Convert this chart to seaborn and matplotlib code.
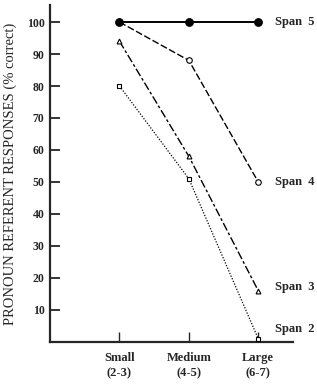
import pandas as pd
import seaborn as sns
import matplotlib.pyplot as plt

# set size categories and % correct for each memory span group
categories = ['Small\n(2-3)', 'Medium\n(4-5)', 'Large\n(6-7)']
span5 = [100, 100, 100]
span4 = [100, 88, 50]
span3 = [94, 58, 16]
span2 = [80, 51, 1]
y_ticks = [10, 20, 30, 40, 50, 60, 70, 80, 90, 100]

series = {'Span  5': span5, 'Span  4': span4, 'Span  3': span3, 'Span  2': span2}

sns.set_style('ticks')
plt.rcParams['font.family'] = ['Liberation Serif', 'DejaVu Serif']

styles = {
    'Span  5': dict(marker='o', markersize=5.5, markerfacecolor='black', linestyle='-', linewidth=1.4, zorder=5),
    'Span  4': dict(marker='o', markersize=4, markerfacecolor='white', linestyle=(0, (5, 1.8)), linewidth=1.0, zorder=3),
    'Span  3': dict(marker='^', markersize=3.5, markerfacecolor='white', linestyle=(0, (6, 1.8, 2, 1.8)), linewidth=1.0, zorder=3),
    'Span  2': dict(marker='s', markersize=3.5, markerfacecolor='white', linestyle=(0, (1, 1.3)), linewidth=0.9, zorder=3),
}
label_y = {'Span  5': 100, 'Span  4': 50, 'Span  3': 17, 'Span  2': 4}

frames = []
for name, vals in series.items():
    frames.append(pd.DataFrame({'pos': range(len(categories)), 'pct': vals, 'span': name}))
df = pd.concat(frames)

fig = plt.figure(figsize=(3.17, 3.92), dpi=100)
ax = fig.add_axes([0.158, 0.128, 0.766, 0.859])

for name in series:
    sub = df[df['span'] == name]
    sns.lineplot(data=sub, x='pos', y='pct', ax=ax, color='black',
                 markeredgecolor='black', markeredgewidth=0.8, **styles[name])
    ax.text(2.24, label_y[name], name, fontsize=9, fontweight='bold', va='center', ha='left')

ax.set_xlim(-1, 2.5)
ax.set_ylim(0, 105.3)
ax.set_xticks(range(len(categories)))
ax.set_xticklabels(categories, fontweight='bold', fontsize=9, linespacing=1.45)
ax.set_yticks(y_ticks)
ax.set_yticklabels([str(t) for t in y_ticks], fontweight='bold', fontsize=8.5)
ax.tick_params(axis='y', direction='in', length=7, width=1.3, pad=4)
ax.tick_params(axis='x', direction='in', length=7, width=1.0, pad=7)
ax.set_xlabel('')
ax.set_ylabel('PRONOUN REFERENT RESPONSES (% correct)', fontsize=10.5, labelpad=7)
for s in ['top', 'right']:
    ax.spines[s].set_visible(False)
ax.spines['left'].set_linewidth(1.6)
ax.spines['bottom'].set_linewidth(1.6)

fig.savefig('out.png', dpi=100)
